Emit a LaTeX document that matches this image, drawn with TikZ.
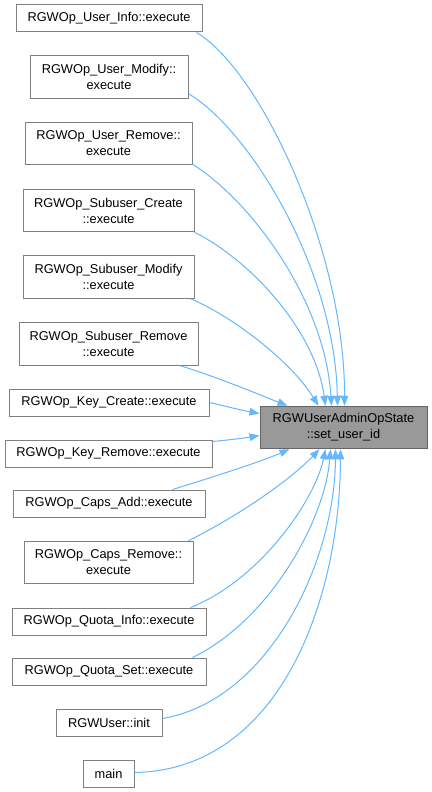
\documentclass[tikz,border=0pt]{standalone}
\usepackage{fontspec}
\setmainfont{Liberation Sans}
\usetikzlibrary{arrows.meta,calc}
\definecolor{edgeblue}{HTML}{63B8FF}
\definecolor{boxgray}{HTML}{808080}
\definecolor{tfill}{HTML}{999999}
\definecolor{tborder}{HTML}{666666}
\tikzset{
  fn/.style={draw=boxgray, fill=white, line width=1pt, inner sep=0pt, align=center,
    font=\fontsize{12.8}{16}\selectfont, minimum height=27pt},
  fn2/.style={fn, minimum height=42.5pt},
  target/.style={fn2, fill=tfill, draw=tborder},
  call/.style={draw=edgeblue, line width=1pt, -{Triangle[length=10pt,width=7.5pt]}}
}
\begin{document}
\begin{tikzpicture}[x=1pt,y=-1pt]
\useasboundingbox (0,0) rectangle (431,792);
\fill[white] (0,0) rectangle (431,792);
\node[fn, minimum width=186pt] (ui) at (109,18.5) {RGWOp\_User\_Info::execute};
\node[fn2, minimum width=158pt] (um) at (109,77) {RGWOp\_User\_Modify::\\execute};
\node[fn2, minimum width=167pt] (ur) at (108.5,143.5) {RGWOp\_User\_Remove::\\execute};
\node[fn2, minimum width=171pt] (sc) at (108.5,210.5) {RGWOp\_Subuser\_Create\\::execute};
\node[fn2, minimum width=171pt] (sm) at (108.5,277) {RGWOp\_Subuser\_Modify\\::execute};
\node[fn2, minimum width=179pt] (sr) at (108.5,344) {RGWOp\_Subuser\_Remove\\::execute};
\node[fn, minimum width=200pt] (kc) at (109,402.5) {RGWOp\_Key\_Create::execute};
\node[fn, minimum width=207pt] (kr) at (108.5,453.5) {RGWOp\_Key\_Remove::execute};
\node[fn, minimum width=192pt] (ca) at (109,503.5) {RGWOp\_Caps\_Add::execute};
\node[fn2, minimum width=169pt] (cr) at (108.5,562.5) {RGWOp\_Caps\_Remove::\\execute};
\node[fn, minimum width=194pt] (qi) at (109,621.5) {RGWOp\_Quota\_Info::execute};
\node[fn, minimum width=194pt] (qs) at (109,671.5) {RGWOp\_Quota\_Set::execute};
\node[fn, minimum width=106pt] (init) at (109,722.5) {RGWUser::init};
\node[fn, minimum width=51pt] (main) at (108.5,773.5) {main};
\node[target, minimum width=167pt] (t) at (343.5,427.5) {RGWUserAdminOpState\\::set\_user\_id};

% edges from above
\draw[call] ($(ui.south east)+(-6,0)$) .. controls (260,70) and (345,250) .. ($(t.north west)+(85,0)$);
\draw[call] ($(um.south east)+(0,-5)$) .. controls (250,130) and (335,270) .. ($(t.north west)+(78,0)$);
\draw[call] ($(ur.south east)+(0,-1)$) .. controls (250,200) and (325,300) .. ($(t.north west)+(72,0)$);
\draw[call] ($(sc.south east)+(0,0)$) .. controls (250,260) and (315,330) .. ($(t.north west)+(66,0)$);
\draw[call] ($(sm.south east)+(-4,0)$) .. controls (230,315) and (290,360) .. ($(t.north west)+(59,0)$);
\draw[call] ($(sr.south east)+(-18,0)$) .. controls (220,378) and (260,395) .. ($(t.north west)+(28,0)$);
% edges from the left
\draw[call] (kc.east) .. controls (225,406) and (240,410) .. ($(t.west)+(0,-14)$);
\draw[call] ($(kr.east)+(0,-12)$) .. controls (228,440) and (245,438) .. ($(t.west)+(0,8)$);
% edges from below
\draw[call] ($(ca.north east)+(-33,0)$) .. controls (210,478) and (260,462) .. ($(t.south west)+(30,0)$);
\draw[call] ($(cr.north east)+(-5,0)$) .. controls (240,515) and (290,480) .. ($(t.south west)+(60,0)$);
\draw[call] ($(qi.north east)+(-16,0)$) .. controls (260,580) and (315,500) .. ($(t.south west)+(66,0)$);
\draw[call] ($(qs.north east)+(-14,0)$) .. controls (270,620) and (325,520) .. ($(t.south west)+(71,0)$);
\draw[call] ($(init.east)+(0,-4)$) .. controls (270,700) and (335,560) .. ($(t.south west)+(76,0)$);
\draw[call] ($(main.east)+(0,-1)$) .. controls (280,770) and (340,600) .. ($(t.south west)+(81,0)$);
\end{tikzpicture}
\end{document}
